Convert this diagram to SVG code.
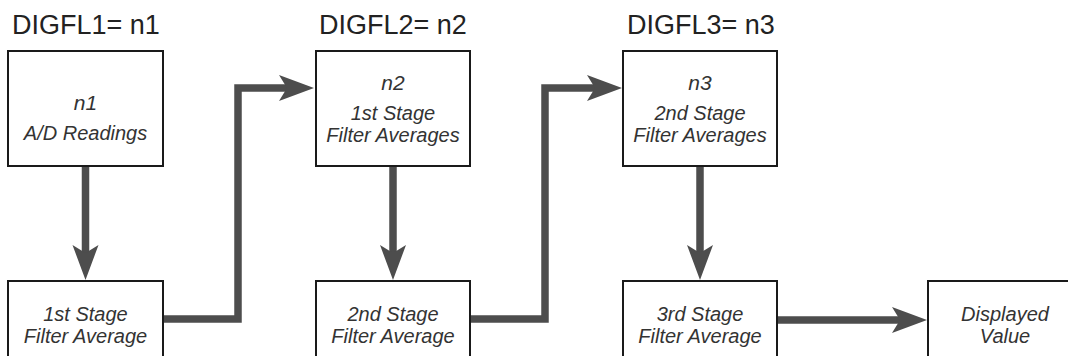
<svg xmlns="http://www.w3.org/2000/svg" width="1068" height="356" viewBox="0 0 1068 356">
<defs>
<style>
.box{fill:#fff;stroke:#1a1a1a;stroke-width:2}
.t{font-family:"Liberation Sans",Arial,sans-serif;font-style:italic;font-size:20px;fill:#333;text-anchor:middle}
.n{font-size:21px}
.title{font-family:"Liberation Sans",Arial,sans-serif;font-size:27px;fill:#222}
.c{fill:none;stroke:#4d4d4d;stroke-width:7.5;marker-end:url(#ah)}
</style>
<marker id="ah" markerUnits="userSpaceOnUse" markerWidth="36" markerHeight="28" viewBox="0 0 36 28" refX="15" refY="13.5" orient="auto">
<path d="M0 0.5 L35 13.5 L0 26.5 L8 13.5 Z" fill="#4d4d4d"/>
</marker>
</defs>
<rect width="1068" height="356" fill="#fff"/>
<g id="titles">
<text class="title" x="12" y="34">DIGFL1= n1</text>
<text class="title" x="319" y="34">DIGFL2= n2</text>
<text class="title" x="627" y="34">DIGFL3= n3</text>
</g>
<g id="connectors">
<path class="c" d="M85.5 166 V260"/>
<path class="c" d="M393 166 V260"/>
<path class="c" d="M700 166 V260"/>
<path class="c" d="M163 319 H238 V88 H294"/>
<path class="c" d="M470 319 H545 V88 H602"/>
<path class="c" d="M777 320 H907"/>
</g>
<g id="node-ad">
<rect class="box" x="8" y="51" width="155" height="115"/>
<text class="t n" x="85.5" y="110">n1</text>
<text class="t" x="85.5" y="140">A/D Readings</text>
</g>
<g id="node-s1avgs">
<rect class="box" x="316" y="51" width="154" height="115"/>
<text class="t n" x="393" y="90">n2</text>
<text class="t" x="393" y="120">1st Stage</text>
<text class="t" x="393" y="142">Filter Averages</text>
</g>
<g id="node-s2avgs">
<rect class="box" x="623" y="51" width="154" height="115"/>
<text class="t n" x="700" y="90">n3</text>
<text class="t" x="700" y="120">2nd Stage</text>
<text class="t" x="700" y="142">Filter Averages</text>
</g>
<g id="node-s1">
<rect class="box" x="8" y="281" width="155" height="115"/>
<text class="t" x="85.5" y="321">1st Stage</text>
<text class="t" x="85.5" y="343">Filter Average</text>
</g>
<g id="node-s2">
<rect class="box" x="316" y="281" width="154" height="115"/>
<text class="t" x="393" y="321">2nd Stage</text>
<text class="t" x="393" y="343">Filter Average</text>
</g>
<g id="node-s3">
<rect class="box" x="623" y="281" width="154" height="115"/>
<text class="t" x="700" y="321">3rd Stage</text>
<text class="t" x="700" y="343">Filter Average</text>
</g>
<g id="node-display">
<rect class="box" x="928" y="281" width="155" height="115"/>
<text class="t" x="1005" y="321">Displayed</text>
<text class="t" x="1005" y="343">Value</text>
</g>
</svg>
